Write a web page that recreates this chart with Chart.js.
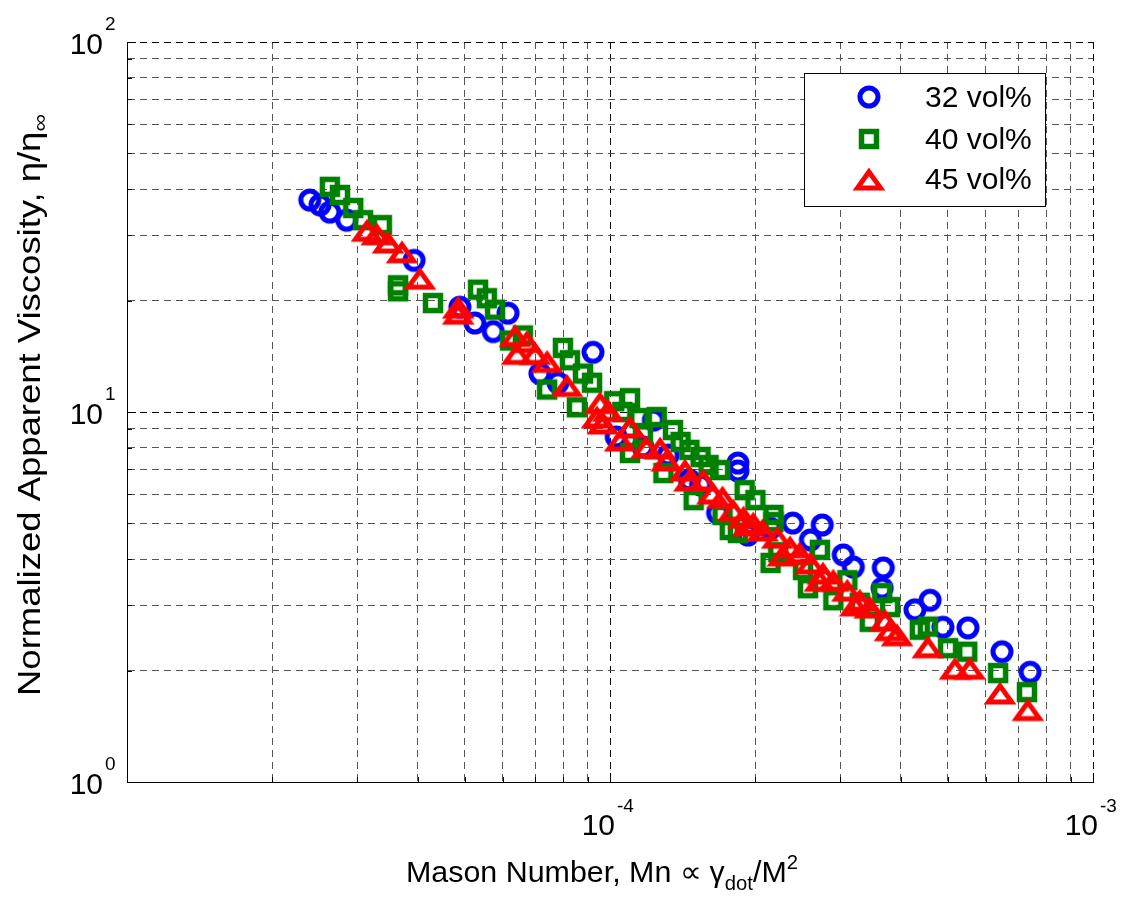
<!DOCTYPE html>
<html lang="en">
<head>
<meta charset="UTF-8">
<title>Normalized Apparent Viscosity vs Mason Number</title>
<script src="https://cdn.jsdelivr.net/npm/chart.js"></script>
<style>
    body { margin: 0; background: #fff; }
    .wrap { width: 1127px; height: 907px; position: relative; }
</style>
</head>
<body>
<div class="wrap"><canvas id="grafica"></canvas></div>

<script>
    // Mason number (x) and normalized viscosity (y) for each concentration
    const mn32 = [2.39e-5, 2.51e-5, 2.63e-5, 2.85e-5, 3.93e-5, 4.89e-5, 5.25e-5, 5.73e-5, 6.15e-5, 7.16e-5, 7.80e-5, 9.22e-5,
        1.03e-4, 1.17e-4, 1.23e-4, 1.32e-4, 1.46e-4, 1.54e-4, 1.67e-4, 1.84e-4, 1.84e-4, 1.93e-4, 2.15e-4, 2.39e-4, 2.60e-4,
        2.75e-4, 3.04e-4, 3.19e-4, 3.66e-4, 3.68e-4, 4.28e-4, 4.60e-4, 4.89e-4, 5.51e-4, 6.48e-4, 7.41e-4];
    const eta32 = [37.4, 36.3, 34.7, 33.0, 25.7, 19.2, 17.4, 16.5, 18.5, 12.7, 12.0, 14.5,
        8.56, 8.04, 9.51, 7.65, 6.55, 6.35, 5.33, 7.28, 6.93, 4.65, 4.85, 5.01, 4.51,
        4.95, 4.11, 3.81, 3.34, 3.79, 2.92, 3.10, 2.62, 2.61, 2.25, 1.98];

    const mn40 = [2.63e-5, 2.76e-5, 2.94e-5, 3.08e-5, 3.37e-5, 3.64e-5, 3.64e-5, 4.30e-5, 5.33e-5, 5.56e-5, 5.78e-5, 6.21e-5,
        6.60e-5, 7.41e-5, 7.99e-5, 8.26e-5, 8.79e-5, 9.18e-5, 8.54e-5, 1.02e-4, 1.06e-4, 1.10e-4, 1.15e-4, 1.17e-4, 1.25e-4,
        1.10e-4, 1.35e-4, 1.40e-4, 1.29e-4, 1.54e-4, 1.60e-4, 1.46e-4, 1.49e-4, 1.69e-4, 1.77e-4, 1.71e-4, 1.84e-4, 1.90e-4,
        2.00e-4, 2.18e-4, 2.18e-4, 2.15e-4, 2.23e-4, 2.51e-4, 2.57e-4, 2.72e-4, 3.10e-4, 2.90e-4, 3.29e-4, 3.45e-4, 3.66e-4,
        3.80e-4, 4.38e-4, 4.55e-4, 5.01e-4, 5.49e-4, 6.36e-4, 7.30e-4];
    const eta40 = [40.6, 38.6, 35.6, 33.0, 32.0, 22.0, 21.2, 19.7, 21.4, 20.3, 18.9, 15.6,
        16.1, 11.5, 14.9, 13.8, 12.7, 12.0, 10.3, 10.7, 10.0, 10.9, 9.63, 8.70, 9.69,
        7.75, 8.94, 8.30, 6.84, 7.56, 7.19, 7.90, 5.78, 6.97, 4.80, 5.27, 4.71, 6.15,
        5.78, 5.27, 5.04, 3.91, 4.18, 3.74, 3.34, 4.24, 3.51, 3.10, 3.05, 2.71, 3.24,
        2.97, 2.58, 2.63, 2.30, 2.25, 1.97, 1.75];

    const mn45 = [3.14e-5, 3.29e-5, 3.47e-5, 3.71e-5, 4.04e-5, 4.85e-5, 4.85e-5, 6.36e-5, 6.73e-5, 6.42e-5, 6.99e-5, 7.41e-5,
        8.15e-5, 9.54e-5, 9.91e-5, 9.40e-5, 9.67e-5, 1.10e-4, 1.05e-4, 1.19e-4, 1.27e-4, 1.31e-4, 1.43e-4, 1.46e-4, 1.56e-4,
        1.63e-4, 1.71e-4, 1.80e-4, 1.89e-4, 1.93e-4, 1.98e-4, 2.07e-4, 2.22e-4, 2.28e-4, 2.36e-4, 2.47e-4, 2.60e-4, 2.72e-4,
        2.76e-4, 2.90e-4, 3.10e-4, 3.22e-4, 3.29e-4, 3.45e-4, 3.71e-4, 3.80e-4, 3.93e-4, 4.55e-4, 5.18e-4, 5.56e-4, 6.42e-4, 7.33e-4];
    const eta45 = [31.0, 30.3, 28.8, 27.1, 23.0, 19.2, 18.5, 16.1, 15.5, 14.4, 14.4, 13.7,
        11.8, 10.6, 10.1, 9.69, 9.34, 9.11, 8.40, 8.04, 7.99, 7.42, 6.97, 6.55, 6.55,
        6.04, 5.89, 5.43, 5.20, 4.95, 5.01, 4.80, 4.59, 4.11, 4.32, 4.16, 3.91, 3.51,
        3.67, 3.51, 3.30, 3.01, 3.10, 2.97, 2.74, 2.58, 2.50, 2.32, 2.03, 2.03, 1.74, 1.57];

    const seriesLabels = ['32 vol%', '40 vol%', '45 vol%'];
    const xTicks = [1e-5, 2e-5, 3e-5, 4e-5, 5e-5, 6e-5, 7e-5, 8e-5, 9e-5,
        1e-4, 2e-4, 3e-4, 4e-4, 5e-4, 6e-4, 7e-4, 8e-4, 9e-4, 1e-3];
    const xTickLabels = [1e-4, 1e-3];   // 10^-5 is not labelled in the original
    const yTicks = [1, 2, 3, 4, 5, 6, 7, 8, 9, 10, 20, 30, 40, 50, 60, 70, 80, 90, 100];
    const yTickLabels = [1, 10, 100];

    const FONT = '"Liberation Sans", Arial, Helvetica, sans-serif';

    function isDecade(v) {
        const e = Math.log10(v);
        return Math.abs(e - Math.round(e)) < 1e-9;
    }

    // open markers like the matlab ones
    function markerCircle() {
        const c = document.createElement('canvas');
        c.width = 28; c.height = 28;
        const g = c.getContext('2d');
        g.strokeStyle = '#0000ff';
        g.lineWidth = 5;
        g.beginPath();
        g.arc(14, 14, 9, 0, Math.PI * 2);
        g.stroke();
        return c;
    }
    function markerSquare() {
        const c = document.createElement('canvas');
        c.width = 24; c.height = 24;
        const g = c.getContext('2d');
        g.strokeStyle = '#008000';
        g.lineWidth = 5.5;
        g.strokeRect(4.5, 4.5, 15, 15);
        return c;
    }
    function markerTriangle() {
        const c = document.createElement('canvas');
        c.width = 36; c.height = 28;
        const g = c.getContext('2d');
        g.strokeStyle = '#ff0000';
        g.lineWidth = 5;
        g.lineJoin = 'miter';
        g.beginPath();
        g.moveTo(18, 6.9);
        g.lineTo(29.5, 22.9);
        g.lineTo(6.5, 22.9);
        g.closePath();
        g.stroke();
        return c;
    }
    const markers = [markerCircle(), markerSquare(), markerTriangle()];

    function toPoints(xs, ys) {
        return xs.map((x, i) => ({ x: x, y: ys[i] }));
    }

    // draw a centred line of text made of runs (sub/superscripts), stretched to a given length
    function drawRuns(ctx, runs, x, y, length) {
        let total = 0;
        runs.forEach(r => {
            ctx.font = r.size + 'px ' + FONT;
            r.w = ctx.measureText(r.t).width;
            total += r.w;
        });
        const k = length / total;
        ctx.save();
        ctx.translate(x - length / 2, y);
        ctx.scale(k, 1);
        ctx.textAlign = 'left';
        ctx.textBaseline = 'alphabetic';
        let cx = 0;
        runs.forEach(r => {
            ctx.font = r.size + 'px ' + FONT;
            ctx.fillText(r.t, cx, r.dy || 0);
            cx += r.w;
        });
        ctx.restore();
    }

    const decorPlugin = {
        id: 'decor',
        afterDraw(chart) {
            const ctx = chart.ctx;
            const xs = chart.scales.x, ys = chart.scales.y;
            const area = chart.chartArea;
            ctx.save();
            ctx.fillStyle = '#000';
            ctx.strokeStyle = '#000';
            ctx.lineWidth = 1;

            // inner tick marks
            ctx.beginPath();
            xTicks.forEach(v => {
                const px = Math.round(xs.getPixelForValue(v)) + 0.5;
                const len = isDecade(v) ? 9 : 5;
                ctx.moveTo(px, area.bottom);
                ctx.lineTo(px, area.bottom - len);
            });
            yTicks.forEach(v => {
                const py = Math.round(ys.getPixelForValue(v)) + 0.5;
                const len = isDecade(v) ? 9 : 5;
                ctx.moveTo(area.left, py);
                ctx.lineTo(area.left + len, py);
            });
            ctx.stroke();

            // tick labels 10^n
            xTickLabels.forEach(v => {
                const px = xs.getPixelForValue(v);
                const e = Math.round(Math.log10(v));
                ctx.font = '30px ' + FONT;
                ctx.textAlign = 'right';
                ctx.textBaseline = 'alphabetic';
                ctx.fillText('10', px + 5, area.bottom + 53);
                ctx.font = '19px ' + FONT;
                ctx.textAlign = 'left';
                ctx.fillText(String(e), px + 7, area.bottom + 30);
            });
            yTickLabels.forEach(v => {
                const py = ys.getPixelForValue(v);
                const e = Math.round(Math.log10(v));
                ctx.font = '30px ' + FONT;
                ctx.textAlign = 'right';
                ctx.textBaseline = 'alphabetic';
                ctx.fillText('10', 103, py + 12);
                ctx.font = '19px ' + FONT;
                ctx.textAlign = 'left';
                ctx.fillText(String(e), 105, py - 12);
            });

            // x title
            drawRuns(ctx, [
                { t: 'Mason Number, Mn \u221D \u03B3', size: 30 },
                { t: 'dot', size: 20, dy: 8 },
                { t: '/M', size: 30 },
                { t: '2', size: 20, dy: -13 }
            ], 602, 882, 392);

            // y title
            ctx.save();
            ctx.translate(40, 405);
            ctx.rotate(-Math.PI / 2);
            drawRuns(ctx, [
                { t: 'Normalized Apparent Viscosity, \u03B7/\u03B7', size: 31 },
                { t: '\u221E', size: 21, dy: 7 }
            ], 0, 0, 582);
            ctx.restore();

            // legend box
            const lx = 804, ly = 73, lw = 241, lh = 133;
            ctx.fillStyle = '#fff';
            ctx.fillRect(lx, ly, lw, lh);
            ctx.strokeStyle = '#000';
            ctx.lineWidth = 1;
            ctx.strokeRect(lx + 0.5, ly + 0.5, lw, lh);
            const rows = [97, 139, 179];
            seriesLabels.forEach((lab, i) => {
                const m = markers[i];
                ctx.drawImage(m, 869 - m.width / 2, rows[i] - m.height / 2);
                ctx.fillStyle = '#000';
                ctx.font = '30px ' + FONT;
                ctx.textAlign = 'left';
                ctx.textBaseline = 'middle';
                ctx.fillText(lab, 925, rows[i] + 2);
            });
            ctx.restore();
        }
    };

    function gridColor(c) {
        if (!c.tick) return '#000';
        return isDecade(c.tick.value) ? '#000' : '#555';
    }

    const ctx = document.getElementById('grafica').getContext('2d');
    const myChart = new Chart(ctx, {
        type: 'scatter',
        data: {
            datasets: [
                { label: seriesLabels[0], data: toPoints(mn32, eta32), pointStyle: markers[0], order: 3 },
                { label: seriesLabels[1], data: toPoints(mn40, eta40), pointStyle: markers[1], order: 2 },
                { label: seriesLabels[2], data: toPoints(mn45, eta45), pointStyle: markers[2], order: 1 }
            ]
        },
        options: {
            responsive: true,
            maintainAspectRatio: false,
            animation: false,
            layout: { padding: { top: 42, right: 34, left: 0, bottom: 0 } },
            plugins: {
                legend: { display: false },
                tooltip: { enabled: false }
            },
            scales: {
                x: {
                    type: 'logarithmic',
                    min: 1e-5,
                    max: 1e-3,
                    afterBuildTicks: s => { s.ticks = xTicks.map(v => ({ value: v })); },
                    afterFit: s => { s.height = 125; },
                    ticks: { display: false },
                    grid: { color: gridColor, lineWidth: 1, drawTicks: false },
                    border: { display: true, color: '#000', width: 1, dash: [7, 5] }
                },
                y: {
                    type: 'logarithmic',
                    min: 1,
                    max: 100,
                    afterBuildTicks: s => { s.ticks = yTicks.map(v => ({ value: v })); },
                    afterFit: s => { s.width = 127; },
                    ticks: { display: false },
                    grid: { color: gridColor, lineWidth: 1, drawTicks: false },
                    border: { display: true, color: '#000', width: 1, dash: [7, 5] }
                }
            }
        },
        plugins: [decorPlugin]
    });
</script>
</body>
</html>
